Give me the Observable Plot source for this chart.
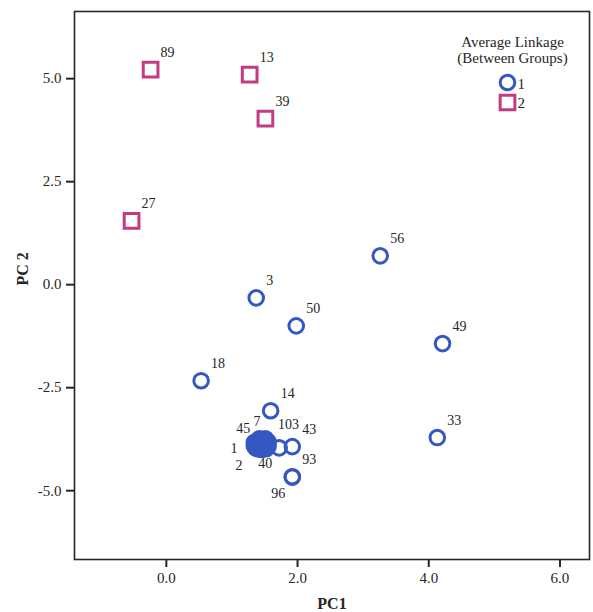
<!DOCTYPE html>
<html>
<head>
<meta charset="utf-8">
<script src="https://cdn.jsdelivr.net/npm/d3@7"></script>
<script src="https://cdn.jsdelivr.net/npm/@observablehq/plot@0.6"></script>
<style>
  html, body { margin: 0; padding: 0; background: #fff; }
  #chart svg { display: block; }
</style>
</head>
<body>
<div id="chart"></div>
<script>
// ---- Data ----
// Cluster 1 (blue circles); empty labels are unlabeled cases inside the dense clump
const c1Labels = ["56","3","50","49","18","14","33","43","93","96","40","103","7","45","1","2",
                  "","","","","","","","","","","","","","",""];
const c1PC1 = [3.26, 1.37, 1.98, 4.21, 0.53, 1.59, 4.13, 1.92, 1.92, 1.92, 1.72, 1.55, 1.45, 1.34, 1.36, 1.45,
               1.40, 1.49, 1.52, 1.46, 1.55, 1.37, 1.39, 1.43, 1.49, 1.52, 1.46, 1.34, 1.55, 1.42, 1.51];
const c1PC2 = [0.70, -0.32, -1.00, -1.43, -2.33, -3.06, -3.71, -3.93, -4.66, -4.67, -3.96, -3.81, -3.79, -3.83, -3.96, -4.00,
               -3.88, -3.91, -3.98, -3.83, -3.93, -3.81, -3.98, -3.93, -3.81, -3.88, -3.98, -3.91, -3.86, -3.74, -3.74];
// Cluster 2 (magenta squares)
const c2Labels = ["89","13","39","27"];
const c2PC1 = [-0.24, 1.27, 1.51, -0.53];
const c2PC2 = [5.22, 5.10, 4.03, 1.55];
// Legend / axes text
const legendTitle = ["Average Linkage", "(Between Groups)"];
const clusterNames = ["1", "2"];
const xTicks = [0, 2, 4, 6];
const yTicks = [-5, -2.5, 0, 2.5, 5];
const xTitle = "PC1";
const yTitle = "PC 2";

// ---- Build tables ----
const pts1 = c1Labels.map((id, i) => ({id, pc1: c1PC1[i], pc2: c1PC2[i], cluster: clusterNames[0]}));
const pts2 = c2Labels.map((id, i) => ({id, pc1: c2PC1[i], pc2: c2PC2[i], cluster: clusterNames[1]}));
const all = pts1.concat(pts2);

// label placement (style only)
const placeOf = {"45": "nw", "7": "n", "1": "w", "2": "sw", "40": "s", "96": "s"};
const placements = {
  ne: {textAnchor: "start", dx: 10, dy: -17},
  nw: {textAnchor: "end", dx: -4, dy: -14},
  n:  {textAnchor: "end", dx: -1, dy: -19},
  w:  {textAnchor: "end", dx: -18, dy: 1},
  sw: {textAnchor: "end", dx: -19, dy: 16},
  s:  {textAnchor: "middle", dx: -14, dy: 16}
};

const BLUE = "#3557c2";
const MAG = "#c43c80";
const INK = "#262626";
const rCircle = 7.3, rSquare = 8.3, sw = 3;
const fmt = d => d.toFixed(1);

const labelMarks = Object.entries(placements).map(([key, p]) =>
  Plot.text(all.filter(d => d.id !== "" && (placeOf[d.id] || "ne") === key), {
    x: "pc1", y: "pc2", text: "id",
    textAnchor: p.textAnchor, dx: p.dx, dy: p.dy, lineAnchor: "middle",
    fontSize: 14, fill: INK
  })
);

const chart = Plot.plot({
  width: 593,
  height: 612,
  marginLeft: 74,
  marginRight: 4,
  marginTop: 11,
  marginBottom: 53,
  style: {fontFamily: "'Liberation Serif', 'DejaVu Serif', serif", background: "#fff", color: INK},
  x: {domain: [-1.40, 6.45]},
  y: {domain: [-6.67, 6.63]},
  marks: [
    Plot.frame({stroke: INK, strokeWidth: 1.6}),
    Plot.axisX({ticks: xTicks, tickFormat: fmt, tickSize: 8, tickPadding: 5,
                fontSize: 15, strokeWidth: 2, label: null, stroke: INK}),
    Plot.axisY({ticks: yTicks, tickFormat: fmt, tickSize: 8, tickPadding: 5,
                fontSize: 15, strokeWidth: 2, label: null, stroke: INK}),
    Plot.text([xTitle], {frameAnchor: "bottom", dy: 44, lineAnchor: "middle", text: d => d, fontSize: 16, fontWeight: "bold", fill: INK}),
    Plot.text([yTitle], {frameAnchor: "left", dx: -52, lineAnchor: "middle", rotate: -90, text: d => d, fontSize: 16, fontWeight: "bold", fill: INK}),
    Plot.dot(pts2, {x: "pc1", y: "pc2", symbol: "square", r: rSquare, stroke: MAG, strokeWidth: sw, fill: "none"}),
    Plot.dot(pts1, {x: "pc1", y: "pc2", symbol: "circle", r: rCircle, stroke: BLUE, strokeWidth: sw, fill: "none"}),
    ...labelMarks,
    // legend (inside the frame, top-right)
    Plot.text([legendTitle[0]], {frameAnchor: "top-right", dx: -77, dy: 31, lineAnchor: "middle", text: d => d, textAnchor: "middle", fontSize: 15, fill: INK}),
    Plot.text([legendTitle[1]], {frameAnchor: "top-right", dx: -77, dy: 47, lineAnchor: "middle", text: d => d, textAnchor: "middle", fontSize: 15, fill: INK}),
    Plot.dot([clusterNames[0]], {frameAnchor: "top-right", dx: -82, dy: 71, symbol: "circle", r: rCircle, stroke: BLUE, strokeWidth: sw, fill: "none"}),
    Plot.dot([clusterNames[1]], {frameAnchor: "top-right", dx: -82, dy: 91, symbol: "square", r: rSquare, stroke: MAG, strokeWidth: sw, fill: "none"}),
    Plot.text([clusterNames[0]], {frameAnchor: "top-right", dx: -72, dy: 73, lineAnchor: "middle", text: d => d, textAnchor: "start", fontSize: 15, fill: INK}),
    Plot.text([clusterNames[1]], {frameAnchor: "top-right", dx: -72, dy: 92, lineAnchor: "middle", text: d => d, textAnchor: "start", fontSize: 15, fill: INK})
  ]
});
document.getElementById("chart").appendChild(chart);
</script>
</body>
</html>
